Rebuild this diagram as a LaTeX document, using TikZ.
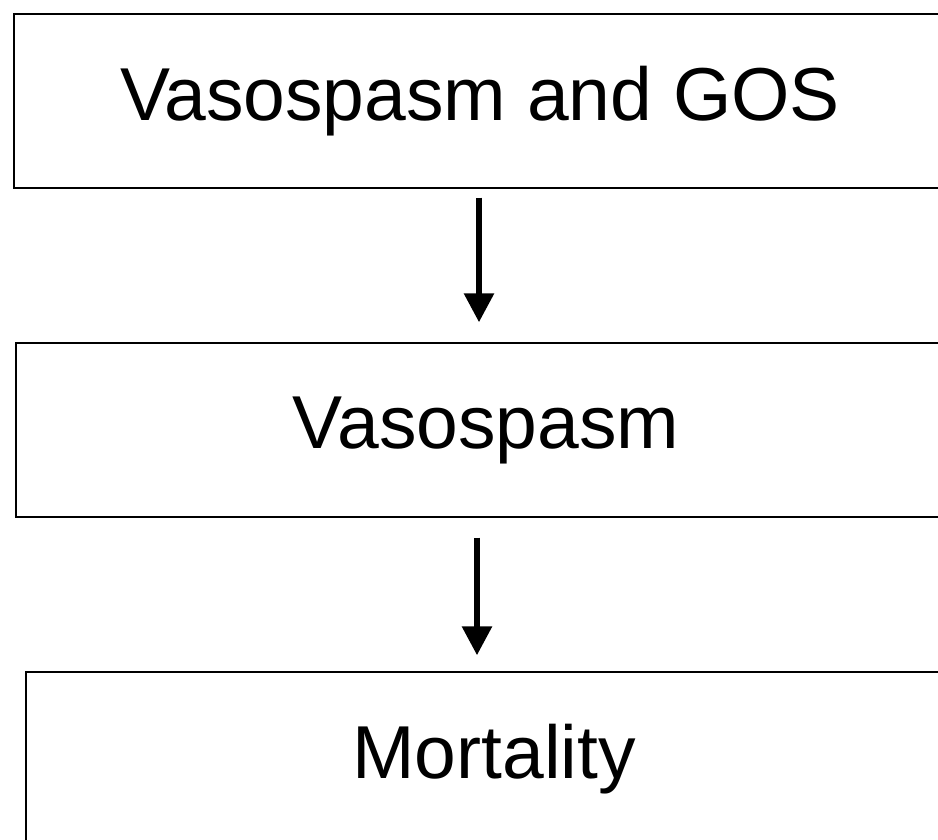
\documentclass[tikz,border=0pt]{standalone}
\usepackage{fontspec}
\setmainfont{Liberation Sans}
\usetikzlibrary{arrows.meta}

\begin{document}
\begin{tikzpicture}[x=1pt, y=-1pt,
  box/.style={draw, line width=1.4pt, inner sep=0pt, minimum height=174pt,
    font=\fontsize{75}{80}\selectfont},
  arr/.style={line width=6pt, -{Triangle[width=29pt,length=29pt]}}]
\useasboundingbox (0,0) rectangle (938,840);
\clip (0,0) rectangle (938,840);

\node[box, minimum width=932pt] (gos) at (480,101) {Vasospasm and GOS};
\node[box, minimum width=940pt] (vaso) at (486,430) {Vasospasm};
\node[box, minimum width=936pt] (mort) at (494,759) {Mortality};

\draw[arr] ([xshift=-1pt,yshift=-9pt]gos.south) -- ([xshift=-7pt,yshift=20pt]vaso.north);
\draw[arr] ([xshift=-9pt,yshift=-20pt]vaso.south) -- ([xshift=-17pt,yshift=16pt]mort.north);
\end{tikzpicture}
\end{document}
